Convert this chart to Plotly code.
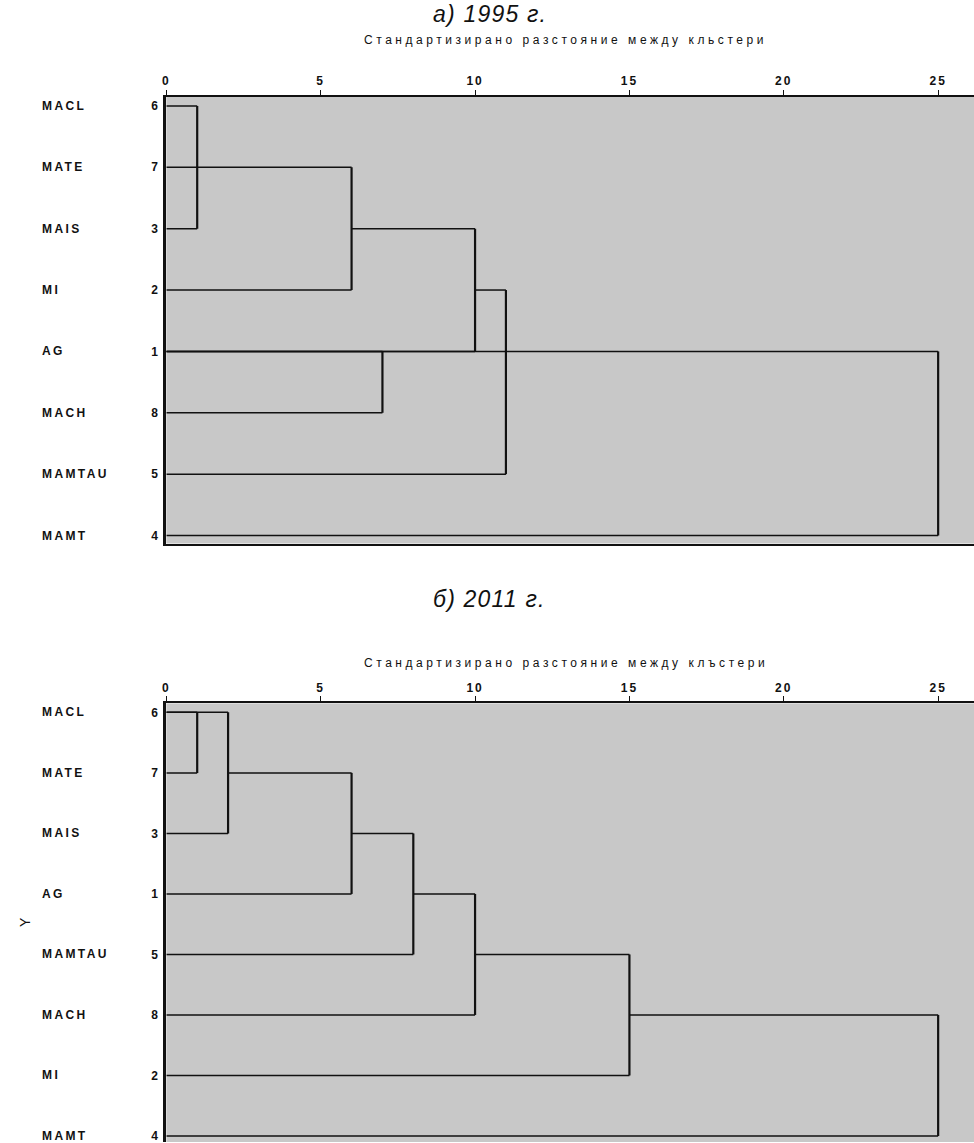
import plotly.graph_objects as go

W, H = 974, 1143

# ---- 1995 ----
rows_1995 = ["MACL", "MATE", "MAIS", "MI", "AG", "MACH", "MAMTAU", "MAMT"]
cases_1995 = [6, 7, 3, 2, 1, 8, 5, 4]
# each link: upper row, lower row, joining distance, start of upper arm, start of lower arm
link_upper_1995 = [0, 1, 2, 4, 3, 4]
link_lower_1995 = [2, 3, 4, 5, 6, 7]
link_height_1995 = [1, 6, 10, 7, 11, 25]
link_upper_from_1995 = [0, 0, 6, 0, 10, 0]
link_lower_from_1995 = [0, 0, 0, 0, 0, 0]

# ---- 2011 ----
rows_2011 = ["MACL", "MATE", "MAIS", "AG", "MAMTAU", "MACH", "MI", "MAMT"]
cases_2011 = [6, 7, 3, 1, 5, 8, 2, 4]
link_upper_2011 = [0, 0, 1, 2, 3, 4, 5]
link_lower_2011 = [1, 2, 3, 4, 5, 6, 7]
link_height_2011 = [1, 2, 6, 8, 10, 15, 25]
link_upper_from_2011 = [0, 0, 2, 6, 8, 10, 15]
link_lower_from_2011 = [0, 0, 0, 0, 0, 0, 0]

x_ticks = [0, 5, 10, 15, 20, 25]
axis_title_1995 = "Стандартизирано разстояние между кльстери"
axis_title_2011 = "Стандартизирано разстояние между клъстери"

FONT = "Liberation Sans, Arial, sans-serif"
INK = "#111111"


def link_paths(up, lo, h, uf, lf):
    hx, hy, vx, vy = [], [], [], []
    for u, l, d, a, b in zip(up, lo, h, uf, lf):
        hx += [a, d, None, b, d, None]
        hy += [u, u, None, l, l, None]
        vx += [d, d, None]
        vy += [u, l, None]
    return hx, hy, vx, vy


def spaced(text, ls):
    return f'<span style="letter-spacing:{ls}px">{text}</span>'


fig = go.Figure()

panels = [
    ("x", "y", link_upper_1995, link_lower_1995, link_height_1995,
     link_upper_from_1995, link_lower_from_1995),
    ("x2", "y2", link_upper_2011, link_lower_2011, link_height_2011,
     link_upper_from_2011, link_lower_from_2011),
]
for xa, ya, up, lo, h, uf, lf in panels:
    hx, hy, vx, vy = link_paths(up, lo, h, uf, lf)
    fig.add_trace(go.Scatter(x=hx, y=hy, xaxis=xa, yaxis=ya, mode="lines",
                             line=dict(color=INK, width=1.5),
                             hoverinfo="skip", showlegend=False))
    fig.add_trace(go.Scatter(x=vx, y=vy, xaxis=xa, yaxis=ya, mode="lines",
                             line=dict(color=INK, width=2.2),
                             hoverinfo="skip", showlegend=False))

px_per_unit = 31.0
x0_px = 163
x_max = (W - x0_px) / px_per_unit


def pdom(top_px, bottom_px):
    return [max(0.0, 1 - bottom_px / H), 1 - top_px / H]


xaxis_common = dict(
    range=[0, x_max], side="top", tickvals=x_ticks,
    ticktext=[spaced(str(t), 2) for t in x_ticks],
    ticks="outside", ticklen=5, tickcolor=INK, tickwidth=1,
    showline=True, linecolor=INK, linewidth=2,
    showgrid=False, zeroline=False,
    tickfont=dict(family=FONT, size=12, color=INK, weight="bold"),
    domain=[x0_px / W, 1],
)
yaxis_common = dict(
    tickvals=list(range(8)), ticks="", showline=True, linecolor=INK,
    linewidth=3, showgrid=False, zeroline=False, ticklabelstandoff=3,
    ticklabeloverflow="allow",
    tickfont=dict(family=FONT, size=12, color=INK, weight="bold"),
)

# top panel: rows at 106..536 px, frame 97..544 px
r1 = (536 - 106) / 7
fig.update_layout(
    xaxis=dict(**xaxis_common, anchor="y", mirror=True),
    yaxis=dict(**yaxis_common, anchor="x", domain=pdom(97, 544),
               range=[7 + (544 - 536) / r1, -(106 - 97) / r1],
               ticktext=[str(c) for c in cases_1995]),
)
# bottom panel: rows at 713..1137 px, frame 704..1143 px
r2 = (1137 - 713) / 7
fig.update_layout(
    xaxis2=dict(**xaxis_common, anchor="y2", mirror=False),
    yaxis2=dict(**yaxis_common, anchor="x2", domain=pdom(704, 1143),
                range=[7 + (1143 - 1137) / r2, -(713 - 704) / r2],
                ticktext=[str(c) for c in cases_2011]),
)

annotations = []
for yref, rows in (("y", rows_1995), ("y2", rows_2011)):
    for i, name in enumerate(rows):
        annotations.append(dict(
            text=spaced(name, 2.4), x=36 / W, xref="paper", xanchor="left",
            y=i, yref=yref, yanchor="middle", showarrow=False,
            font=dict(family=FONT, size=12, color=INK, weight="bold")))

for title, ty in (("а) 1995 г.", 14), ("б) 2011 г.", 600)):
    annotations.append(dict(
        text=spaced(title, 1.2), x=488 / W, xref="paper", xanchor="center",
        y=1 - ty / H, yref="paper", yanchor="middle", showarrow=False,
        font=dict(family=FONT, size=23, color=INK, style="italic")))

for sub, sy in ((axis_title_1995, 40), (axis_title_2011, 664)):
    annotations.append(dict(
        text=spaced(sub, 3.55), x=564 / W, xref="paper", xanchor="center",
        y=1 - sy / H, yref="paper", yanchor="middle", showarrow=False,
        font=dict(family=FONT, size=12, color=INK)))

annotations.append(dict(
    text="Y", x=21 / W, xref="paper", xanchor="center",
    y=1 - 923 / H, yref="paper", yanchor="middle", showarrow=False,
    textangle=-90, font=dict(family=FONT, size=14, color=INK)))

fig.update_layout(
    width=W, height=H, margin=dict(l=0, r=0, t=0, b=0, pad=0),
    paper_bgcolor="white", plot_bgcolor="#c8c8c8",
    annotations=annotations, showlegend=False,
)

fig.write_html("out.html")
